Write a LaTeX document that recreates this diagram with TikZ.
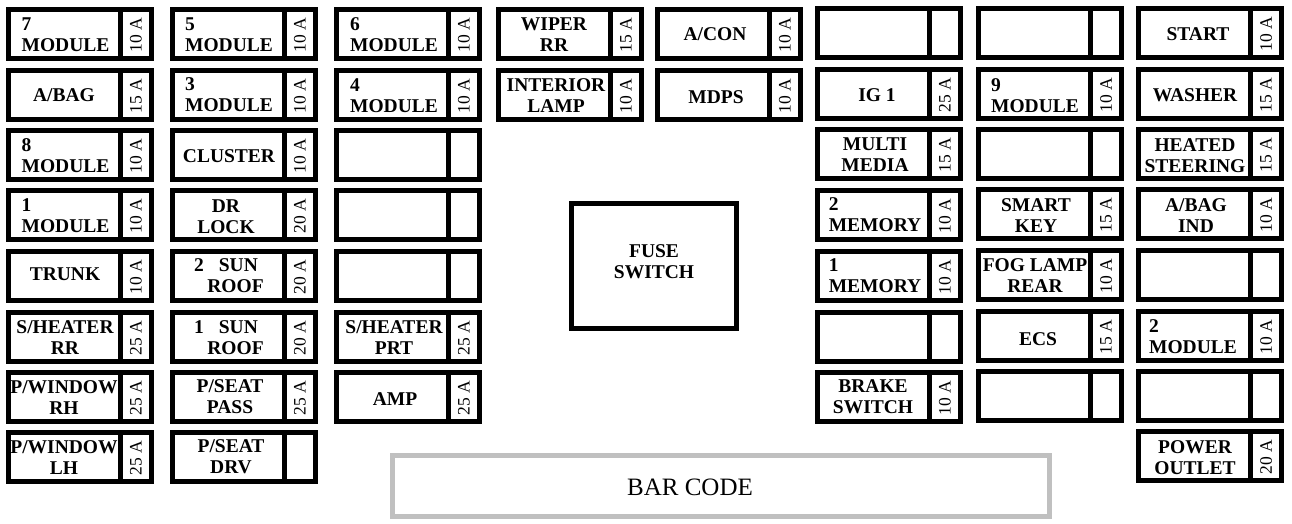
\documentclass[tikz,border=0pt]{standalone}
\usepackage{fontspec}
\setmainfont{Liberation Serif}
\tikzset{
  x=1pt,y=-1pt,
  cell/.style={draw=black,fill=white,line width=5pt,inner sep=0pt,outer sep=0pt,anchor=north west},
  txt/.style={font=\fontsize{19.5}{21}\selectfont\bfseries,inner sep=0pt,align=center,yshift=-0.7pt},
  numbered/.style={align=left},
  ampere/.style={font=\fontsize{17.5}{17}\selectfont,inner sep=0pt,rotate=90},
  fusebig/.style={draw=black,fill=white,line width=5pt,minimum width=165pt,minimum height=125pt,inner sep=0pt},
  barbox/.style={draw=barg,fill=white,line width=5pt,minimum width=657pt,minimum height=61pt,inner sep=0pt},
  bartxt/.style={font=\fontsize{25}{25}\selectfont,inner sep=0pt},
  fusetxt/.style={font=\fontsize{19.5}{21}\selectfont\bfseries,inner sep=0pt,align=center},
}
\definecolor{barg}{HTML}{C0C0C0}
% #1 style, #2 id, #3 x, #4 y, #5 amp, #6 cx, #7 cy, #8 text
\newcommand\fuse[8][]{%
  \node[cell,minimum width=111.5pt,minimum height=49pt] (#2) at (#3+2.5,#4+2.5) {};
  \node[cell,minimum width=31.5pt,minimum height=49pt] (#2a) at (#3+114,#4+2.5) {};
  \node[txt,#1] (#2t) at (#6,#7) {#8};
  \node[ampere] (#2v) at (#3+130,#4+28) {#5};
}
\newcommand\blankfuse[3]{%
  \node[cell,minimum width=111.5pt,minimum height=49pt] (#1) at (#2+2.5,#3+2.5) {};
  \node[cell,minimum width=31.5pt,minimum height=49pt] (#1a) at (#2+114,#3+2.5) {};
}
\begin{document}
\begin{tikzpicture}
\useasboundingbox (0,0) rectangle (1292,524);
\fill[white] (0,0) rectangle (1292,524);
% column 1
\fuse[numbered]{aa}{6}{7}{10 A}{65.5}{34}{7\\MODULE}
\fuse{ab}{6}{68}{15 A}{64}{94}{A/BAG}
\fuse[numbered]{ac}{6}{128}{10 A}{65.5}{155}{8\\MODULE}
\fuse[numbered]{ad}{6}{188}{10 A}{65.5}{215}{1\\MODULE}
\fuse{ae}{6}{249}{10 A}{65}{274}{TRUNK}
\fuse{af}{6}{310}{25 A}{65}{337}{S/HEATER\\RR}
\fuse{ag}{6}{370}{25 A}{64}{397}{P/WINDOW\\RH}
\fuse{ah}{6}{430}{25 A}{64}{457}{P/WINDOW\\LH}
% column 2
\fuse[numbered]{ba}{170}{7}{10 A}{229}{34}{5\\MODULE}
\fuse[numbered]{bb}{170}{68}{10 A}{229}{94}{3\\MODULE}
\fuse{bc}{170}{128}{10 A}{229}{155}{CLUSTER}
\fuse{bd}{170}{188}{20 A}{226}{216}{DR\\LOCK}
\fuse{be}{170}{249}{20 A}{226}{275}{2\hspace{15pt}SUN\\\hspace{19pt}ROOF}
\fuse{bf}{170}{310}{20 A}{226}{337}{1\hspace{15pt}SUN\\\hspace{19pt}ROOF}
\fuse{bg}{170}{370}{25 A}{230}{396}{P/SEAT\\PASS}
\fuse{bh}{170}{430}{}{231}{456}{P/SEAT\\DRV}
% column 3
\fuse[numbered]{ca}{334}{7}{10 A}{394}{34}{6\\MODULE}
\fuse[numbered]{cb}{334}{68}{10 A}{394}{95}{4\\MODULE}
\blankfuse{cc}{334}{128}
\blankfuse{cd}{334}{188}
\blankfuse{ce}{334}{249}
\fuse{cf}{334}{310}{25 A}{394}{337}{S/HEATER\\PRT}
\fuse{cg}{334}{370}{25 A}{395}{398}{AMP}
% column 4
\fuse{da}{496}{7}{15 A}{554}{34}{WIPER\\RR}
\fuse{db}{496}{68}{10 A}{556}{95}{INTERIOR\\LAMP}
% column 5
\fuse{ea}{655}{7}{10 A}{715}{33}{A/CON}
\fuse{eb}{655}{68}{10 A}{716}{96}{MDPS}
% column 6
\blankfuse{fa}{815}{6}
\fuse{fb}{815}{67}{25 A}{877}{94}{IG 1}
\fuse{fc}{815}{127}{15 A}{875}{154}{MULTI\\MEDIA}
\fuse[numbered]{fd}{815}{188}{10 A}{875}{214}{2\\MEMORY}
\fuse[numbered]{fe}{815}{249}{10 A}{875}{275}{1\\MEMORY}
\blankfuse{ff}{815}{310}
\fuse{fg}{815}{370}{10 A}{873}{396}{BRAKE\\SWITCH}
% column 7
\blankfuse{ga}{976}{6}
\fuse[numbered]{gb}{976}{67}{10 A}{1035}{95}{9\\MODULE}
\blankfuse{gc}{976}{127}
\fuse{gd}{976}{187}{15 A}{1036}{215}{SMART\\KEY}
\fuse{ge}{976}{248}{10 A}{1035}{275}{FOG LAMP\\REAR}
\fuse{gf}{976}{309}{15 A}{1038}{338}{ECS}
\blankfuse{gg}{976}{369}
% column 8
\fuse{ha}{1136}{6}{10 A}{1198}{33}{START}
\fuse{hb}{1136}{67}{15 A}{1195}{94}{WASHER}
\fuse{hc}{1136}{127}{15 A}{1195}{155}{HEATED\\STEERING}
\fuse{hd}{1136}{187}{10 A}{1196}{215}{A/BAG\\IND}
\blankfuse{he}{1136}{248}
\fuse[numbered]{hf}{1136}{309}{10 A}{1193}{336}{2\\MODULE}
\blankfuse{hg}{1136}{369}
\fuse{hh}{1136}{429}{20 A}{1195}{457}{POWER\\OUTLET}
% centre
\node[fusebig] (sw) at (654,265.5) {};
\node[fusetxt] (swt) at (654,262) {FUSE\\SWITCH};
\node[barbox] (bar) at (721,486) {};
\node[bartxt] (bart) at (690,487) {BAR CODE};
\end{tikzpicture}
\end{document}
